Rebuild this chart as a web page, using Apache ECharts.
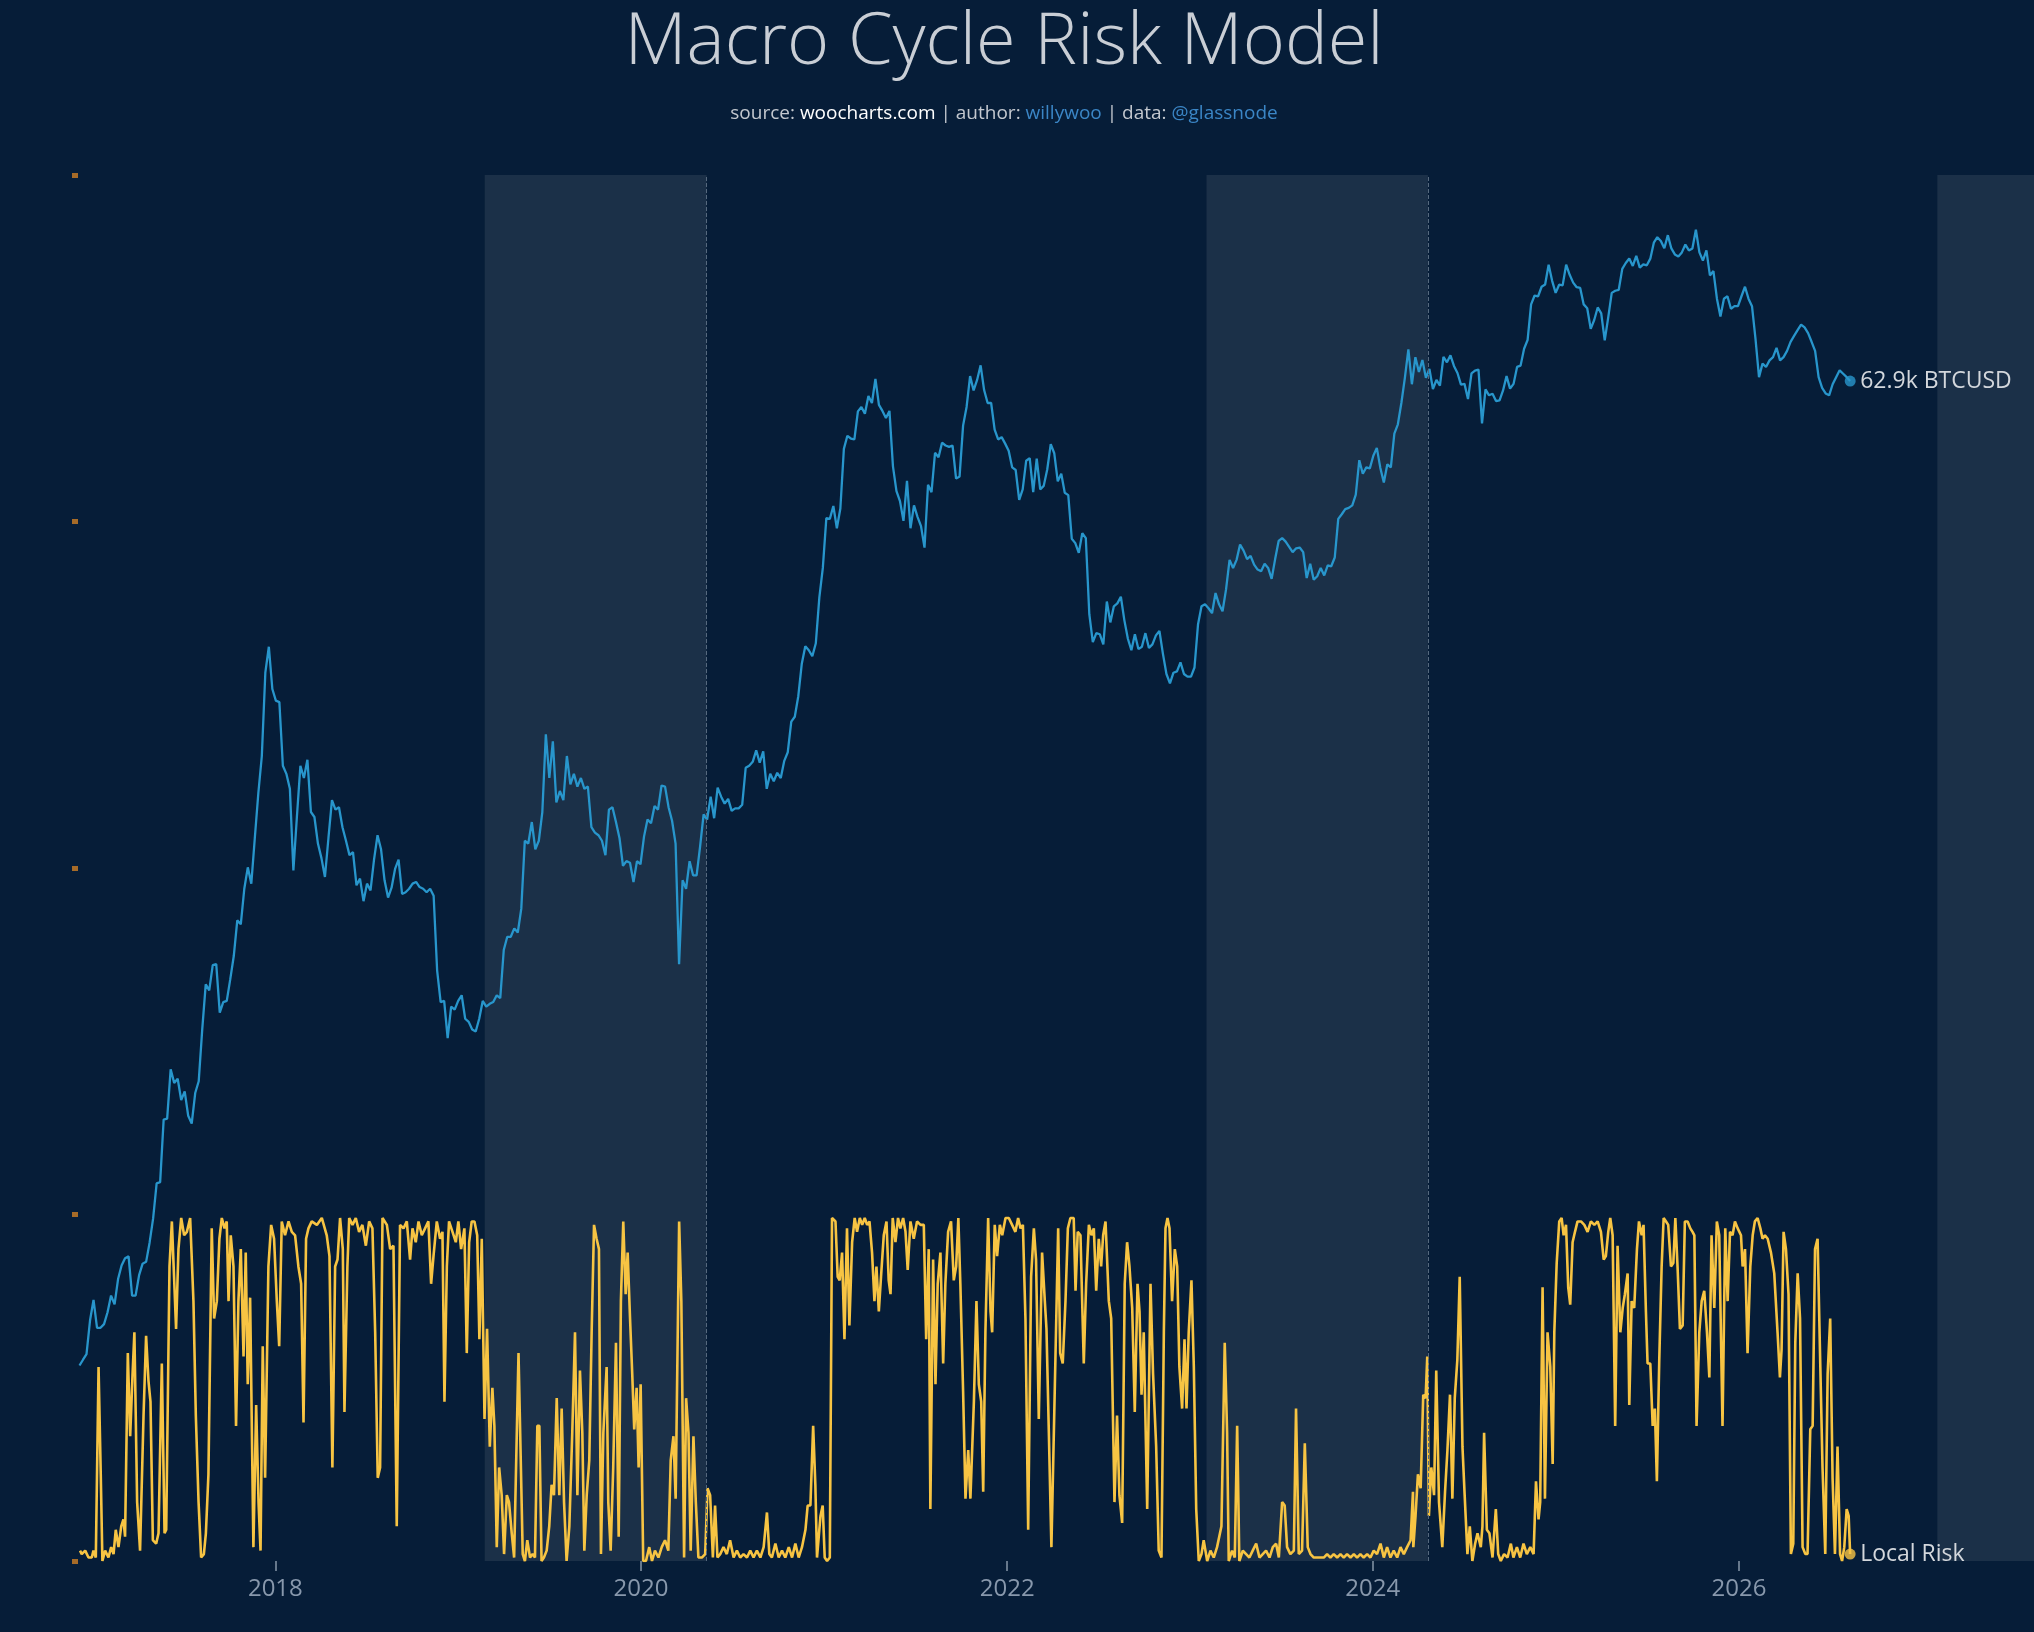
<!DOCTYPE html>
<html>
<head>
<meta charset="UTF-8">
<title>Macro Cycle Risk Model</title>
<style>
    html, body { margin:0; padding:0; background-color:#061d38; }
    #main { width:2034px; height:1632px; }
</style>
<script src="https://cdn.jsdelivr.net/npm/echarts@6/dist/echarts.min.js"></script>
</head>
<body>
<div id="main"></div>
<script type="text/javascript">
// BTCUSD, one value per week (Tuesdays), each year starts at weekStarts[i]
var weekStarts = ['2016-12-06','2017-01-03','2018-01-02','2019-01-01','2020-01-07','2021-01-05',
                  '2022-01-04','2023-01-03','2024-01-02','2025-01-07','2026-01-06'];
var price2016 = [760,780,800,930];
var price2017 = [1020,900,900,915,965, 1040,1000,1120,1190, 1230,1240,1040,1040, 1140,1200,1210,1320,
    1470,1720,1730,2290,2300, 2870,2700,2750,2500, 2600,2330,2250,2580, 2720,3430,4200,4090,4580,
    4600,3700,3880,3900, 4300,4770,5600,5500,6450, 7100,6600,8100,9900, 11700,17000,19100,15800];
var price2018 = [15000,14900,11200,10800,10100, 7000,8900,11200,10600, 11500,9100,8900,7900,
    7400,6800,8100,9600, 9200,9300,8500,8000,7500, 7600,6550,6750,6100, 6600,6400,7350,8200,7700,
    6700,6200,6480,7050, 7350,6300,6350,6450, 6600,6650,6500,6450,6350, 6450,6250,4470,3880,
    3900,3300,3800,3750];
var price2019 = [3900,4000,3600,3550,3430, 3400,3600,3900,3800, 3850,3880,4000,3950,
    4900,5200,5200,5400,5300, 5900,8000,7900,8700, 7700,8000,9100,12900, 10600,12500,9500,10000,9600,
    11700,10300,10800,10200, 10600,10100,10200,8500, 8300,8200,8000,7500,9200, 9300,8700,8100,7150,
    7300,7250,6650,7300,7200];
var price2020 = [8150,8800,8650,9350, 9200,10250,10200,9300, 8750,7900,4600,6700,6450,
    7300,6850,6850,7800, 9000,8800,9750,8850, 10150,9750,9450,9650,9150, 9250,9250,9400,11100,
    11200,11400,12000,11350, 11950,10100,10800,10450,10850, 10600,11450,11900,13650,
    13950,15300,17700,19150, 18800,18300,19400,23800,27200];
var price2021 = [34000,33900,35900,32500, 35500,46400,49200,48600, 48400,54900,56000,54300,58800,
    57000,63500,56500,55000, 53300,55000,42900,38400, 36700,33600,40200,32500,36000,
    34200,32800,29800,39500, 38200,45600,44700,47700,47100, 46800,47100,40600,41000,
    51500,56000,64300,60300, 63200,67500,60400,57000,57000, 50600,48400,48900,47500];
var price2022 = [46000,42700,42200,36900, 38700,44000,44500,38200, 44400,38700,39300,42300,47400,
    45500,40100,41500,38100, 37700,31000,30400,29100,31800, 31100,22100,19500,20300,
    20200,19300,23400,21300, 22900,23200,23900,21500,19800, 18800,20200,18900,19100,
    20300,19000,19300,20100, 20500,18500,16900,16200,17000, 17100,17800,16900,16700];
var price2023 = [16700,17400,21100,22900,23100, 22700,22200,24300,23100, 22400,24700,28200,27200,
    28200,30200,29400,28300, 28700,27600,27000,26800,27700, 27200,25900,28300,30700,
    31100,30600,29900,29200, 29700,29800,29200,26000,27700, 25800,26200,27200,26300,
    27500,27400,28500,33900,34600, 35400,35600,36000,37800, 44100,41500,42700,42500];
var price2024 = [45000,46600,42600,39900,43300, 42700,49700,51800,57000, 63800,72500,62000,70000,
    65500,69100,63800,66400,60700, 63200,61600,70100,68400, 70600,67300,65200,61900,
    62100,58000,65100,65900,66200, 52000,60600,59000,59400, 57500,57700,60300,64300,
    60800,62100,67000,67400,72700, 75600,88700,92300,92000, 96000,97000,106000,98600,93400];
var price2025 = [96900,96600,106000,101300, 97800,95800,95500,88700, 87200,79500,82700,87500,
    85200,75500,83700,93400,94300, 94700,104000,106800,109000, 105400,110300,104600,106100,
    105700,108900,117000,119900,117900, 114100,121000,114000,111000,
    110000,112000,116000,113000,114000, 124000,112000,108000,113000, 101000,103000,91000,84000,
    91000,92000,87000,88000,88000];
var price2026 = [92000,96000,91000,88000, 76000,64000,68000,67000, 69000,70000,73000,69000,70000,
    72000,75000,77000,79000, 81000,80000,78000,75000, 72000,64000,61000,59500,59000,
    62000,64000,66000,65000, 64000,62900];
var priceYears = [price2016,price2017,price2018,price2019,price2020,price2021,
                  price2022,price2023,price2024,price2025,price2026];

// Local Risk, [decimal year, value]
var riskSeg1 = [[2016.932,0.03],[2016.941,0.02],[2016.960,0.03],[2016.978,0.01],[2016.996,0.01],[2017.005,0.03],[2017.018,0.01],[2017.033,0.56],[2017.045,0.25],[2017.054,0.0],[2017.069,0.03],[2017.087,0.01],[2017.102,0.04],[2017.115,0.02],[2017.127,0.09],[2017.142,0.04],[2017.157,0.10],[2017.169,0.12],[2017.178,0.07],[2017.193,0.60],[2017.206,0.36],[2017.219,0.54],[2017.229,0.66],[2017.244,0.17],[2017.260,0.03],[2017.279,0.42],[2017.293,0.65],[2017.306,0.52],[2017.317,0.46],[2017.330,0.06],[2017.348,0.05],[2017.361,0.08],[2017.379,0.57],[2017.394,0.08],[2017.403,0.09],[2017.421,0.85],[2017.434,0.98],[2017.446,0.82],[2017.457,0.67],[2017.470,0.90],[2017.485,0.99],[2017.501,0.94],[2017.516,0.95],[2017.534,0.99],[2017.552,0.75],[2017.565,0.42],[2017.580,0.17],[2017.594,0.01],[2017.609,0.02],[2017.620,0.08],[2017.634,0.25],[2017.652,0.96],[2017.665,0.70],[2017.680,0.75],[2017.694,0.93],[2017.707,0.99],[2017.722,0.96],[2017.734,0.98],[2017.744,0.75],[2017.756,0.94],[2017.771,0.85],[2017.785,0.39],[2017.798,0.75],[2017.811,0.90],[2017.826,0.59],[2017.838,0.89],[2017.849,0.51],[2017.862,0.76],[2017.880,0.04],[2017.895,0.45],[2017.908,0.17],[2017.919,0.03],[2017.931,0.62],[2017.944,0.24],[2017.962,0.85],[2017.977,0.97],[2017.993,0.93],[2018.008,0.75],[2018.021,0.62],[2018.035,0.98],[2018.053,0.94],[2018.072,0.98],[2018.090,0.95],[2018.108,0.94],[2018.126,0.85],[2018.141,0.80],[2018.154,0.40],[2018.168,0.93],[2018.181,0.96],[2018.199,0.98],[2018.227,0.97],[2018.254,0.99],[2018.281,0.94],[2018.296,0.88],[2018.312,0.27],[2018.327,0.85],[2018.340,0.87],[2018.354,0.99],[2018.369,0.90],[2018.378,0.43],[2018.394,0.85],[2018.404,0.99],[2018.422,0.97],[2018.440,0.99],[2018.458,0.95],[2018.476,0.97],[2018.495,0.91],[2018.513,0.98],[2018.531,0.96],[2018.546,0.66],[2018.560,0.24],[2018.573,0.27],[2018.586,0.99],[2018.610,0.97],[2018.628,0.90],[2018.646,0.91],[2018.664,0.10],[2018.682,0.97],[2018.701,0.96],[2018.719,0.98],[2018.737,0.87],[2018.750,0.96],[2018.768,0.92],[2018.783,0.98],[2018.801,0.94],[2018.819,0.96],[2018.837,0.98],[2018.852,0.80],[2018.865,0.88],[2018.883,0.98],[2018.901,0.93],[2018.914,0.95],[2018.925,0.46],[2018.938,0.85],[2018.950,0.98],[2018.969,0.95],[2018.987,0.92],[2019.001,0.98],[2019.016,0.90],[2019.034,0.96],[2019.047,0.60],[2019.060,0.92],[2019.074,0.98],[2019.089,0.98],[2019.104,0.94],[2019.116,0.64],[2019.129,0.93],[2019.144,0.41],[2019.158,0.67],[2019.173,0.33],[2019.187,0.50],[2019.198,0.39],[2019.211,0.04],[2019.224,0.27],[2019.238,0.19],[2019.251,0.02],[2019.266,0.19],[2019.278,0.17],[2019.293,0.08],[2019.306,0.01],[2019.330,0.60]];
var riskSeg2 = [[2019.353,0.02],[2019.365,0.00],[2019.378,0.06],[2019.393,0.01],[2019.407,0.02],[2019.420,0.01],[2019.433,0.39],[2019.444,0.39],[2019.456,0.00],[2019.469,0.01],[2019.484,0.03],[2019.498,0.10],[2019.511,0.22],[2019.524,0.19],[2019.539,0.47],[2019.553,0.19],[2019.566,0.44],[2019.579,0.17],[2019.593,0.00],[2019.608,0.10],[2019.624,0.37],[2019.639,0.66],[2019.652,0.19],[2019.666,0.55],[2019.679,0.37],[2019.690,0.03],[2019.703,0.19],[2019.717,0.29],[2019.730,0.66],[2019.743,0.97],[2019.757,0.93],[2019.770,0.90],[2019.781,0.02],[2019.794,0.37],[2019.812,0.56],[2019.821,0.17],[2019.834,0.03],[2019.848,0.27],[2019.863,0.63],[2019.878,0.07],[2019.890,0.75],[2019.903,0.98],[2019.916,0.77],[2019.927,0.89],[2019.940,0.70],[2019.952,0.54],[2019.963,0.38],[2019.976,0.50],[2019.987,0.27],[2019.998,0.51],[2020.012,0.00],[2020.027,0.00],[2020.045,0.04],[2020.060,0.00],[2020.076,0.03],[2020.095,0.01],[2020.113,0.04],[2020.131,0.06],[2020.149,0.03],[2020.162,0.29],[2020.177,0.36],[2020.189,0.18],[2020.208,0.98],[2020.220,0.75],[2020.235,0.01],[2020.246,0.47],[2020.259,0.37],[2020.271,0.03],[2020.286,0.36],[2020.299,0.17],[2020.313,0.01],[2020.332,0.01],[2020.350,0.02],[2020.363,0.21],[2020.377,0.19],[2020.392,0.01],[2020.404,0.16],[2020.417,0.01],[2020.432,0.02],[2020.450,0.04],[2020.468,0.02],[2020.486,0.06],[2020.505,0.01],[2020.523,0.03],[2020.541,0.01],[2020.559,0.02],[2020.578,0.01],[2020.596,0.03],[2020.614,0.01],[2020.632,0.03],[2020.651,0.01],[2020.669,0.04],[2020.687,0.14],[2020.700,0.02],[2020.714,0.01],[2020.733,0.05],[2020.751,0.01],[2020.769,0.03],[2020.787,0.01],[2020.806,0.04],[2020.824,0.01],[2020.842,0.05],[2020.860,0.01],[2020.878,0.04],[2020.897,0.09],[2020.909,0.16],[2020.924,0.16],[2020.939,0.39],[2020.951,0.22],[2020.960,0.01],[2020.979,0.13],[2020.991,0.16],[2021.002,0.01],[2021.015,0.00],[2021.030,0.01],[2021.042,0.99],[2021.061,0.98],[2021.073,0.82],[2021.084,0.81],[2021.097,0.89],[2021.110,0.64],[2021.124,0.96],[2021.137,0.68],[2021.152,0.92],[2021.166,0.99],[2021.179,0.95],[2021.194,0.99],[2021.207,0.97],[2021.221,0.99],[2021.234,0.97],[2021.247,0.98],[2021.261,0.89],[2021.274,0.75],[2021.285,0.85],[2021.298,0.72],[2021.310,0.82],[2021.325,0.94],[2021.340,0.98],[2021.352,0.81],[2021.362,0.77],[2021.374,0.99],[2021.389,0.92],[2021.403,0.99],[2021.416,0.96],[2021.431,0.99],[2021.444,0.95],[2021.456,0.84],[2021.471,0.98],[2021.489,0.93],[2021.507,0.98],[2021.526,0.97],[2021.544,0.97],[2021.557,0.64],[2021.571,0.90],[2021.580,0.15],[2021.595,0.87],[2021.608,0.51],[2021.620,0.80],[2021.635,0.89],[2021.650,0.57],[2021.662,0.80],[2021.677,0.95],[2021.693,0.98],[2021.708,0.81],[2021.721,0.85],[2021.733,0.99],[2021.744,0.80],[2021.759,0.49],[2021.772,0.18]];
var riskSeg3 = [[2021.787,0.32],[2021.799,0.18],[2021.818,0.46],[2021.832,0.75],[2021.845,0.51],[2021.858,0.46],[2021.869,0.20],[2021.881,0.66],[2021.896,0.99],[2021.909,0.72],[2021.918,0.66],[2021.932,0.97],[2021.945,0.88],[2021.960,0.97],[2021.973,0.94],[2021.991,0.99],[2022.009,0.99],[2022.027,0.97],[2022.045,0.95],[2022.060,0.99],[2022.073,0.96],[2022.086,0.97],[2022.100,0.70],[2022.115,0.09],[2022.131,0.82],[2022.146,0.96],[2022.158,0.87],[2022.173,0.41],[2022.191,0.89],[2022.206,0.75],[2022.215,0.67],[2022.228,0.37],[2022.242,0.04],[2022.261,0.51],[2022.279,0.96],[2022.290,0.60],[2022.304,0.57],[2022.319,0.75],[2022.332,0.96],[2022.346,0.99],[2022.364,0.99],[2022.374,0.78],[2022.386,0.95],[2022.401,0.94],[2022.419,0.57],[2022.432,0.80],[2022.447,0.97],[2022.461,0.94],[2022.474,0.96],[2022.487,0.78],[2022.501,0.93],[2022.514,0.85],[2022.525,0.94],[2022.538,0.98],[2022.556,0.75],[2022.569,0.70],[2022.587,0.17],[2022.601,0.42],[2022.614,0.19],[2022.629,0.11],[2022.643,0.80],[2022.656,0.92],[2022.669,0.85],[2022.684,0.73],[2022.698,0.43],[2022.713,0.80],[2022.724,0.72],[2022.735,0.48],[2022.747,0.66],[2022.766,0.15],[2022.784,0.80],[2022.798,0.54],[2022.815,0.33],[2022.829,0.03],[2022.844,0.01],[2022.857,0.66],[2022.866,0.96],[2022.877,0.99],[2022.888,0.96],[2022.902,0.75],[2022.917,0.90],[2022.930,0.85],[2022.942,0.56],[2022.957,0.44],[2022.970,0.64],[2022.981,0.44],[2022.993,0.66],[2023.008,0.81],[2023.021,0.56],[2023.034,0.15],[2023.048,0.00],[2023.063,0.02],[2023.075,0.06],[2023.094,0.00],[2023.112,0.03],[2023.130,0.01],[2023.148,0.04],[2023.172,0.10],[2023.190,0.63],[2023.203,0.37],[2023.212,0.00],[2023.230,0.03],[2023.245,0.01],[2023.258,0.39],[2023.270,0.00],[2023.289,0.03],[2023.307,0.02],[2023.325,0.01],[2023.343,0.03],[2023.362,0.05],[2023.380,0.01],[2023.398,0.02],[2023.416,0.03],[2023.435,0.01],[2023.453,0.04],[2023.471,0.05],[2023.486,0.01],[2023.504,0.17],[2023.518,0.16],[2023.531,0.04],[2023.549,0.02],[2023.568,0.03],[2023.580,0.44],[2023.595,0.02],[2023.613,0.03],[2023.628,0.34],[2023.644,0.04],[2023.659,0.02],[2023.677,0.01],[2023.695,0.01],[2023.713,0.01],[2023.732,0.01],[2023.750,0.02],[2023.768,0.01],[2023.786,0.02],[2023.805,0.01],[2023.823,0.02],[2023.841,0.01],[2023.859,0.02],[2023.878,0.01],[2023.896,0.02],[2023.914,0.01],[2023.932,0.02],[2023.950,0.01],[2023.969,0.02],[2023.987,0.01],[2024.005,0.03],[2024.023,0.02],[2024.042,0.05],[2024.060,0.01],[2024.078,0.04],[2024.096,0.01],[2024.114,0.03],[2024.133,0.01],[2024.151,0.04],[2024.169,0.02],[2024.187,0.04],[2024.206,0.06],[2024.219,0.20]];
var riskSeg4 = [[2024.221,0.04],[2024.233,0.13],[2024.246,0.25],[2024.261,0.21],[2024.275,0.48],[2024.288,0.47],[2024.297,0.59],[2024.306,0.13],[2024.319,0.27],[2024.334,0.19],[2024.346,0.55],[2024.361,0.17],[2024.379,0.04],[2024.394,0.20],[2024.407,0.32],[2024.421,0.48],[2024.434,0.18],[2024.447,0.47],[2024.461,0.58],[2024.474,0.82],[2024.489,0.33],[2024.501,0.19],[2024.516,0.02],[2024.529,0.10],[2024.543,0.00],[2024.558,0.05],[2024.571,0.08],[2024.589,0.04],[2024.598,0.10],[2024.607,0.37],[2024.622,0.09],[2024.636,0.08],[2024.653,0.01],[2024.671,0.15],[2024.684,0.02],[2024.698,0.00],[2024.716,0.02],[2024.735,0.01],[2024.753,0.05],[2024.767,0.01],[2024.786,0.04],[2024.804,0.01],[2024.822,0.05],[2024.840,0.02],[2024.859,0.04],[2024.877,0.02],[2024.890,0.23],[2024.904,0.12],[2024.913,0.17],[2024.926,0.79],[2024.939,0.18],[2024.953,0.66],[2024.968,0.56],[2024.981,0.28],[2024.990,0.66],[2025.003,0.86],[2025.017,0.98],[2025.030,0.99],[2025.041,0.94],[2025.054,0.97],[2025.066,0.79],[2025.077,0.74],[2025.090,0.92],[2025.103,0.95],[2025.117,0.98],[2025.136,0.98],[2025.154,0.97],[2025.172,0.95],[2025.190,0.98],[2025.209,0.97],[2025.227,0.98],[2025.245,0.95],[2025.260,0.87],[2025.272,0.88],[2025.285,0.95],[2025.296,0.99],[2025.309,0.94],[2025.323,0.39],[2025.336,0.91],[2025.351,0.66],[2025.364,0.73],[2025.376,0.77],[2025.391,0.83],[2025.400,0.45],[2025.413,0.75],[2025.427,0.73],[2025.442,0.90],[2025.453,0.98],[2025.468,0.94],[2025.478,0.97],[2025.491,0.72],[2025.500,0.57],[2025.515,0.57],[2025.528,0.39],[2025.540,0.44],[2025.551,0.23],[2025.564,0.58],[2025.577,0.85],[2025.588,0.99],[2025.601,0.98],[2025.613,0.97],[2025.628,0.85],[2025.641,0.86],[2025.652,0.99],[2025.664,0.85],[2025.677,0.67],[2025.692,0.68],[2025.704,0.98],[2025.719,0.98],[2025.734,0.96],[2025.746,0.95],[2025.756,0.94],[2025.768,0.39],[2025.783,0.66],[2025.796,0.75],[2025.810,0.78],[2025.825,0.66],[2025.838,0.53],[2025.850,0.94],[2025.865,0.73],[2025.879,0.98],[2025.892,0.94],[2025.910,0.39],[2025.925,0.96],[2025.938,0.75],[2025.951,0.95],[2025.965,0.94],[2025.978,0.98],[2025.993,0.96],[2026.011,0.94],[2026.020,0.85],[2026.033,0.90],[2026.047,0.60],[2026.062,0.85],[2026.075,0.94],[2026.087,0.98],[2026.102,0.99],[2026.117,0.96],[2026.129,0.93],[2026.142,0.94],[2026.157,0.93],[2026.175,0.89],[2026.193,0.83],[2026.211,0.66],[2026.224,0.53],[2026.233,0.61],[2026.244,0.95],[2026.257,0.90],[2026.271,0.77],[2026.284,0.02],[2026.297,0.05],[2026.308,0.63],[2026.321,0.83],[2026.334,0.70],[2026.348,0.04],[2026.363,0.02],[2026.375,0.02],[2026.390,0.38],[2026.403,0.39],[2026.416,0.90],[2026.430,0.93],[2026.445,0.56],[2026.457,0.27],[2026.472,0.02],[2026.485,0.54],[2026.499,0.70],[2026.512,0.24],[2026.525,0.02],[2026.539,0.33],[2026.553,0.02],[2026.564,0.00],[2026.576,0.04],[2026.589,0.15],[2026.600,0.13],[2026.608,0.02]];

// shaded pre-halving windows and halving dates
var bandStarts = ['2019-02-23','2023-02-03','2027-02-01'];
var halvings = ['2020-05-11','2024-04-20','2028-04-17'];
var yearTicks = ['2018-01-01','2020-01-01','2022-01-01','2024-01-01','2026-01-01'];
var priceTicks = [400,500,600,700,800,900,1000,2000,3000,4000,5000,6000,7000,8000,9000,
                  10000,20000,30000,40000,50000,60000,70000,80000,90000,100000];

var DAY = 86400000;
function toTime(s) { return new Date(s + 'T00:00:00Z').getTime(); }
function yearToTime(y) {
    var yr = Math.floor(y);
    var a = Date.UTC(yr, 0, 1), b = Date.UTC(yr + 1, 0, 1);
    return a + (y - yr) * (b - a);
}

var priceData = [];
priceYears.forEach(function (arr, i) {
    var t0 = toTime(weekStarts[i]);
    arr.forEach(function (v, k) { priceData.push([t0 + k * 7 * DAY, v]); });
});
var riskData = [];
[riskSeg1, riskSeg2, riskSeg3, riskSeg4].forEach(function (seg) {
    seg.forEach(function (p) { riskData.push([yearToTime(p[0]), p[1]]); });
});
var lastPrice = priceData[priceData.length - 1];
var lastRisk = riskData[riskData.length - 1];

var font = '"Open Sans", "Noto Sans", sans-serif';
var myChart = echarts.init(document.getElementById('main'));

var option = {
    backgroundColor: '#061d38',
    animation: false,
    graphic: [
        {
            type: 'text', x: 1004, y: 43,
            style: {
                text: 'Macro Cycle Risk Model', fill: '#c9ced5',
                fontSize: 72, fontWeight: 300, fontFamily: font,
                align: 'center', verticalAlign: 'middle'
            }
        },
        {
            type: 'text', x: 1004, y: 114,
            style: {
                text: '{g|source: }{w|woocharts.com}{g| | author: }{b|willywoo}{g| | data: }{b|@glassnode}',
                align: 'center', verticalAlign: 'middle',
                fontSize: 19, fontFamily: font,
                rich: {
                    g: { fill: '#c3c8cf', color: '#c3c8cf', fontSize: 19, fontFamily: font },
                    w: { fill: '#ffffff', color: '#ffffff', fontSize: 19, fontFamily: font },
                    b: { fill: '#3b86c6', color: '#3b86c6', fontSize: 19, fontFamily: font }
                }
            }
        }
    ],
    grid: { left: 78, right: 0, top: 175, bottom: 71, outerBoundsMode: 'none' },
    xAxis: {
        // timestamps on a plain value axis so the year ticks can be placed exactly
        type: 'value',
        min: toTime('2016-12-03'),
        max: toTime('2027-08-13'),
        axisLine: { show: false },
        splitLine: { show: false },
        axisTick: {
            show: true, length: 10,
            lineStyle: { color: '#8796a8', width: 1.5 },
            customValues: yearTicks.map(toTime)
        },
        axisLabel: {
            customValues: yearTicks.map(toTime),
            formatter: function (v) { return String(new Date(v).getUTCFullYear()); },
            color: '#8898ac', fontSize: 24, fontFamily: font, margin: 16
        }
    },
    yAxis: [
        {
            type: 'value', min: 0, max: 4, interval: 1, position: 'left',
            axisLine: { show: false }, splitLine: { show: false },
            axisLabel: { show: false },
            axisTick: { show: true, length: 6, lineStyle: { color: '#a66b28', width: 5 } }
        },
        {
            type: 'log', logBase: 10, min: 316.23, max: 158489, position: 'right', offset: -15,
            axisLine: { show: false }, splitLine: { show: false },
            axisLabel: { show: false },
            axisTick: {
                show: true, inside: true, length: 7,
                lineStyle: { color: '#2d4e75', width: 3 },
                customValues: priceTicks
            }
        }
    ],
    series: [
        {
            // background windows
            type: 'line', data: [], z: 1, silent: true,
            markArea: {
                silent: true,
                itemStyle: { color: '#1b3048' },
                data: bandStarts.map(function (s, i) {
                    return [{ xAxis: toTime(s) }, { xAxis: toTime(halvings[i]) }];
                })
            },
            markLine: {
                silent: true, symbol: ['none', 'none'],
                label: { show: false },
                lineStyle: { color: '#56697e', type: 'dashed', width: 1 },
                data: halvings.map(function (h) { return { xAxis: toTime(h) }; })
            }
        },
        {
            name: 'BTCUSD', type: 'line', yAxisIndex: 1, z: 3,
            data: priceData, showSymbol: false, symbol: 'none',
            lineStyle: { color: '#2896cc', width: 2.3 },
            endLabel: {
                show: true, distance: 10,
                formatter: function () { return (lastPrice[1] / 1000).toFixed(1) + 'k BTCUSD'; },
                color: '#d3d7dc', fontSize: 23, fontFamily: font
            }
        },
        {
            name: 'Local Risk', type: 'line', yAxisIndex: 0, z: 4,
            data: riskData, showSymbol: false, symbol: 'none',
            lineStyle: { color: '#f7c443', width: 2.6 },
            endLabel: {
                show: true, distance: 10,
                formatter: 'Local Risk',
                color: '#d3d7dc', fontSize: 23, fontFamily: font
            }
        },
        {
            type: 'scatter', yAxisIndex: 1, z: 5, symbolSize: 11,
            itemStyle: { color: '#2896cc' }, data: [lastPrice]
        },
        {
            type: 'scatter', yAxisIndex: 0, z: 5, symbolSize: 11,
            itemStyle: { color: '#f7c443' }, data: [lastRisk]
        }
    ]
};
myChart.setOption(option);
</script>
</body>
</html>
